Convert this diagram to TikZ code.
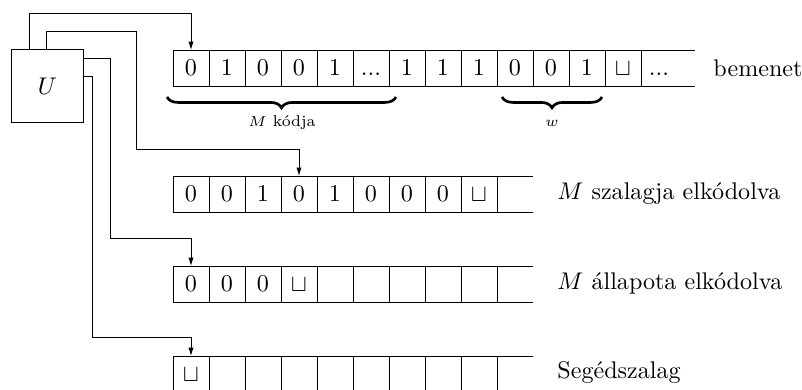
\documentclass[tikz,border=0pt]{standalone}
\usetikzlibrary{arrows.meta,positioning,calc,decorations.pathreplacing}

\newcommand{\tapedots}{...}

\begin{document}
\begin{tikzpicture}[
    x=0.415pt, y=-0.415pt,
    cell/.style={rectangle, draw, inner sep=0pt, outer sep=0pt,
                 minimum width=14.94pt, minimum height=14.94pt},
    opencell/.style={cell, draw=none},
    machine/.style={rectangle, draw, inner sep=0pt, minimum width=29.5pt,
                    minimum height=29.9pt},
    wire/.style={-{Latex[length=3.5pt,width=2.2pt]}},
    brace/.style={decorate, decoration={brace, mirror, amplitude=4.5pt},
                  line width=1.1pt},
    tapelabel/.style={anchor=base west, inner sep=0pt},
    bracelabel/.style={anchor=base, inner sep=0pt, font=\fontsize{6.5}{7}\selectfont}
  ]
  \useasboundingbox (0,0) rectangle (802,389);

  \node[machine] (U) at (47.5,86) {$U$};

  % bemenet
  \foreach \v [count=\i] in {0,1,0,0,1,\tapedots,1,1,1,0,0,1,\sqcup}
    \node[cell] (a\i) at ({155+36*\i},68) {$\vphantom{0}\v$};
  \node[opencell, right=0pt of a13] (a14) {$\vphantom{0}\tapedots$};
  \draw (a13.north east) -- ++(54,0);
  \draw (a13.south east) -- ++(54,0);
  \node[tapelabel] (bem) at (713,76) {bemenet};

  \draw[brace] ($(a1.south west)+(-6,11)$) -- ($(a6.south east)+(7,11)$);
  \draw[brace] ($(a10.south west)+(5,11)$) -- ($(a12.south east)+(-3,11)$);
  \node[bracelabel] (kod) at (282,126) {$M$ kódja};
  \node[bracelabel] (szo) at (552,126) {$w$};

  % M szalagja
  \foreach \v [count=\i] in {0,0,1,0,1,0,0,0,\sqcup}
    \node[cell] (b\i) at ({155+36*\i},194) {$\vphantom{0}\v$};
  \draw (b9.north east) -- ++(36,0);
  \draw (b9.south east) -- ++(36,0);
  \node[tapelabel] (szal) at (557,199) {$M$ szalagja elkódolva};

  % M allapota
  \foreach \v [count=\i] in {0,0,0,\sqcup,{},{},{},{},{}}
    \node[cell] (c\i) at ({155+36*\i},284) {$\vphantom{0}\v$};
  \draw (c9.north east) -- ++(36,0);
  \draw (c9.south east) -- ++(36,0);
  \node[tapelabel] (all) at (557,289) {$M$ állapota elkódolva};

  % segedszalag
  \foreach \v [count=\i] in {\sqcup,{},{},{},{},{},{},{},{}}
    \node[cell] (d\i) at ({155+36*\i},374) {$\vphantom{0}\v$};
  \draw (d9.north east) -- ++(36,0);
  \draw (d9.south east) -- ++(36,0);
  \node[tapelabel] (seg) at (557,378) {Segédszalag};

  % fejek
  \draw[wire] ($(U.north west)+(18,0)$) -- ++(0,-36) -| (a1.north);
  \draw[wire] ($(U.north west)+(35,0)$) -- ++(0,-18) -| ++(90,118) -| (b4.north);
  \draw[wire] ($(U.north east)+(0,9)$) -| ++(27,180) -| (c1.north);
  \draw[wire] ($(U.north east)+(0,27)$) -| ++(9,261) -| (d1.north);
\end{tikzpicture}
\end{document}
